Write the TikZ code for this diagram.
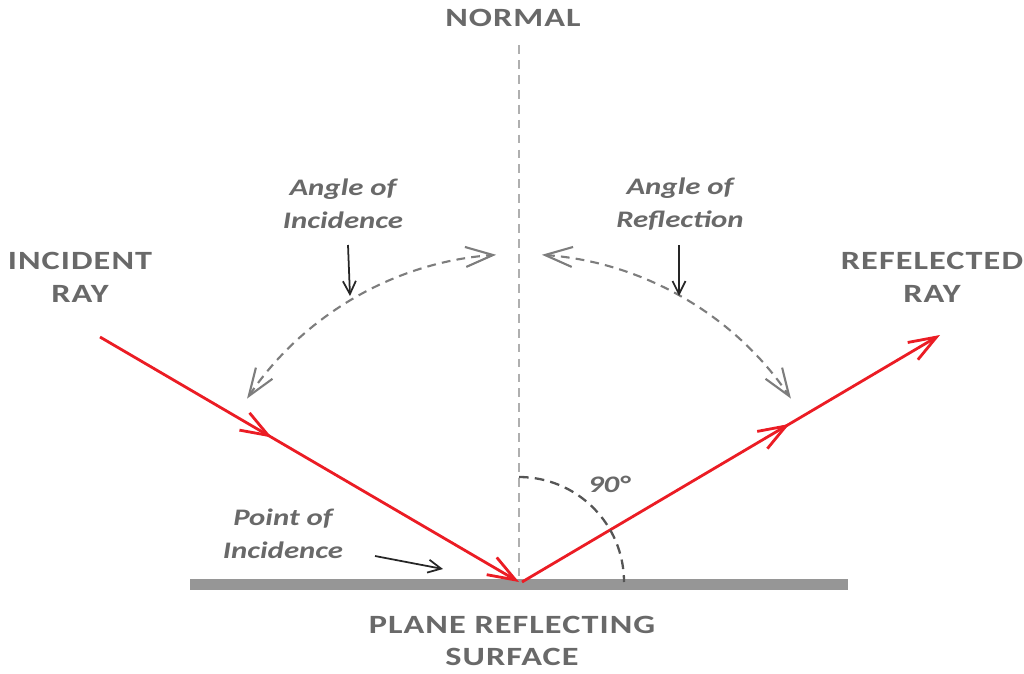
\documentclass[tikz,border=0pt]{standalone}
\usepackage{fontspec}
\setmainfont{Carlito}
\newfontfamily\capsfont[FakeStretch=1.3,LetterSpace=4]{Carlito}
\newfontfamily\notefont[FakeStretch=1.3]{Carlito}
\usetikzlibrary{arrows.meta,decorations.markings}
\definecolor{RayRed}{RGB}{235,28,36}
\definecolor{LabelGray}{RGB}{105,105,105}
\definecolor{NormalGray}{RGB}{175,175,175}
\definecolor{ArcGray}{RGB}{125,125,125}
\definecolor{SurfaceGray}{RGB}{150,150,150}
\definecolor{RightGray}{RGB}{85,85,85}

\begin{document}
\begin{tikzpicture}[x=0.02cm,y=-0.02cm,
  capslabel/.style={font=\capsfont\fontsize{15}{18.7}\selectfont\bfseries,
    text=LabelGray,align=center,inner sep=0pt},
  notelabel/.style={font=\notefont\fontsize{13.5}{18.7}\selectfont\bfseries\itshape,
    text=LabelGray,align=center,inner sep=0pt},
  raytip/.tip={Straight Barb[length=5.5mm,width=4mm]},
  rayline/.style={RayRed,line width=1.6pt,-raytip,postaction={decorate}},
  anglearc/.style={ArcGray,line width=1.2pt,dash pattern=on 5pt off 3.5pt,
    {Straight Barb[length=5.5mm,width=4mm]}-{Straight Barb[length=5.5mm,width=4mm]}},
  pointer/.style={black!85,line width=1pt,-{Straight Barb[length=2.6mm,width=2.6mm]}}]
  \useasboundingbox (0,0) rectangle (1024,673);

  % surface and normal
  \fill[SurfaceGray] (190,579) rectangle (848,590);
  \coordinate (O) at (519,582);
  \coordinate (normalTop) at (519,45);
  \draw[NormalGray,line width=1.2pt,dash pattern=on 5pt off 3.5pt] (normalTop) -- (O);

  % the two rays
  \coordinate (inStart) at (100,337);
  \coordinate (outStart) at (522,582);
  \coordinate (outEnd) at (940,335);
  \draw[rayline,decoration={markings,mark=at position 0.41 with {\arrow{raytip}}}]
    (inStart) -- (O);
  \draw[rayline,decoration={markings,mark=at position 0.64 with {\arrow{raytip}}}]
    (outStart) -- (outEnd);

  % angle arcs
  \draw[anglearc] (O) ++(-146:328) arc[start angle=-146,end angle=-94,radius=328];
  \draw[anglearc] (O) ++(-86:328) arc[start angle=-86,end angle=-34,radius=328];
  \draw[RightGray,line width=1.3pt,dash pattern=on 5.5pt off 3.5pt]
    (O) ++(-90:105) arc[start angle=-90,end angle=0,radius=105];

  % labels
  \node[capslabel] (normal) at (513,18) {NORMAL};
  \node[capslabel] (incident) at (80,277) {INCIDENT\\RAY};
  \node[capslabel] (reflected) at (932,277) {REFELECTED\\RAY};
  \node[capslabel] (plane) at (512,641) {PLANE REFLECTING\\SURFACE};
  \node[notelabel] (incLabel) at (343,204) {Angle of\\Incidence};
  \node[notelabel] (refLabel) at (680,204) {Angle of\\Reflection};
  \node[notelabel] (poiLabel) at (283,534) {Point of\\Incidence};
  \node[notelabel] (right) at (609,484) {90°};

  % pointers
  \coordinate (incTail) at (348,245);
  \coordinate (incTip) at (350,296);
  \coordinate (refTail) at (679,245);
  \coordinate (refTip) at (679,296);
  \coordinate (poiTail) at (375,556);
  \coordinate (poiTip) at (443,569);
  \draw[pointer] (incTail) -- (incTip);
  \draw[pointer] (refTail) -- (refTip);
  \draw[pointer] (poiTail) -- (poiTip);
\end{tikzpicture}
\end{document}
